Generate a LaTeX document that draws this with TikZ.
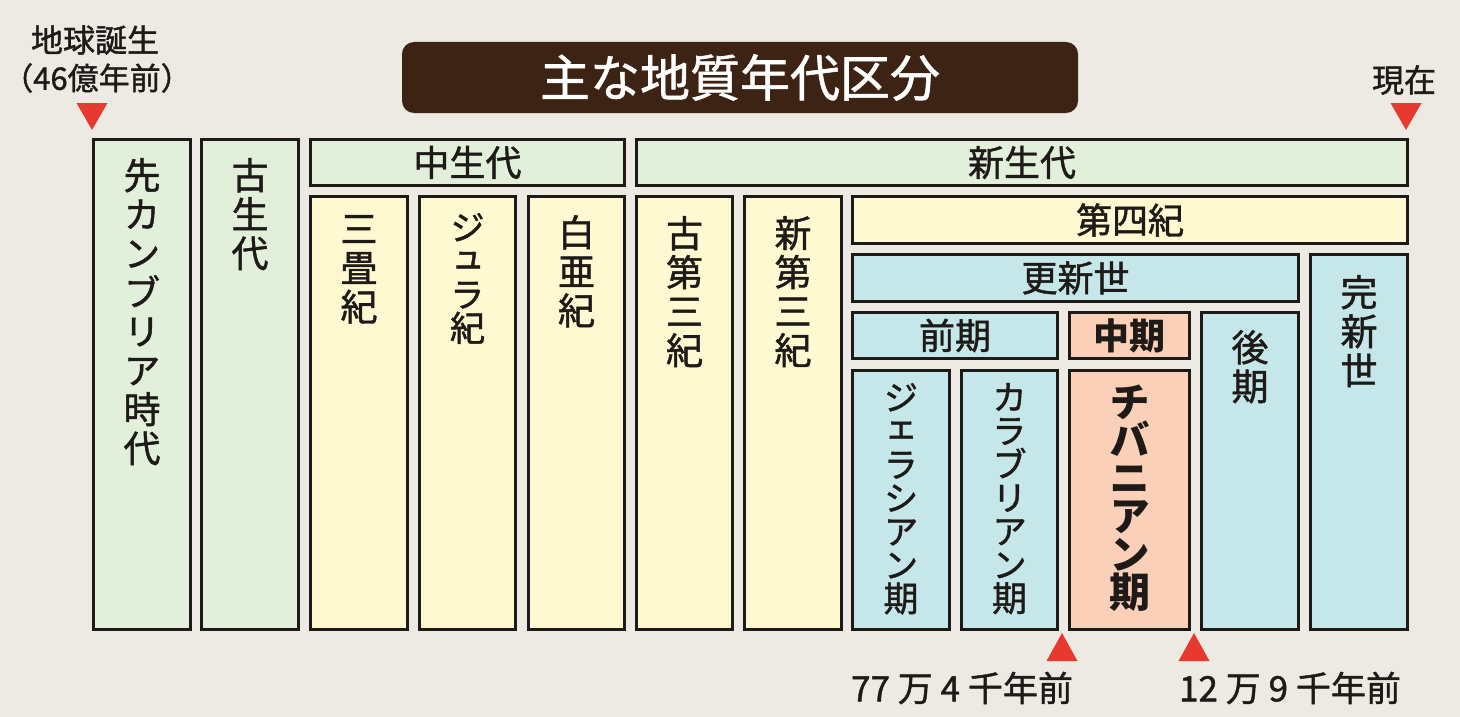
\documentclass[tikz,border=0pt]{standalone}
\usepackage{fontspec}
\setmainfont{Noto Sans CJK JP}[UprightFeatures={FakeBold=1.2}]
\newfontfamily\tatefont{Noto Sans CJK JP}[RawFeature=+vert,UprightFeatures={FakeBold=1.2}]
\usepackage{xcolor}
\usetikzlibrary{positioning}
\definecolor{ink}{HTML}{1E1A18}
\definecolor{paper}{HTML}{EDE9E3}
\definecolor{boxgreen}{HTML}{E2EFDA}
\definecolor{boxyellow}{HTML}{FFF9D2}
\definecolor{boxcyan}{HTML}{C5E7E9}
\definecolor{boxsalmon}{HTML}{FBD0B8}
\definecolor{titlebrown}{HTML}{3D2314}
\definecolor{markred}{HTML}{E8392E}
\newcommand\tatespacing{\lineskiplimit=-100pt\relax\lineskip=0pt\relax}
\newcommand\kogaki[1]{\makebox[1em][l]{\hspace*{-0.1em}#1}}

\begin{document}
\begin{tikzpicture}[x=1pt,y=-1pt]
\tikzstyle{era}=[rectangle,draw=ink,line width=3pt,anchor=north west,inner sep=0pt,text=ink,font=\fontsize{36}{40}\selectfont]
\tikzstyle{greenbox}=[era,fill=boxgreen]
\tikzstyle{yellowbox}=[era,fill=boxyellow]
\tikzstyle{cyanbox}=[era,fill=boxcyan]
\tikzstyle{salmonbox}=[era,fill=boxsalmon]
\tikzstyle{tate}=[align=center,inner sep=0pt,text=ink,font=\tatefont\fontsize{37}{39}\selectfont\tatespacing]
\tikzstyle{tatekana}=[tate,font=\tatefont\fontsize{35}{33.5}\selectfont\tatespacing]
\tikzstyle{note}=[inner sep=0pt,text=ink,font=\fontsize{32}{36}\selectfont]
\tikzstyle{marker}=[fill=markred]

% background
\useasboundingbox (0,0) rectangle (1460,717);
\fill[paper] (0,0) rectangle (1460,717);

% title
\node[rectangle,rounded corners=12pt,fill=titlebrown,minimum width=676pt,minimum height=71pt,text=white,font=\fontsize{50}{54}\selectfont] (title) at (740,77.5) {主な地質年代区分};

% eons and eras
\node[greenbox,minimum width=97pt,minimum height=490pt] (pc) at (92,138) {};
\node[tate,below=20pt of pc.north] (pc-t) {先\\カ\\ン\\ブ\\リ\\ア\\時\\代};
\node[greenbox,minimum width=97pt,minimum height=490pt] (pz) at (200,138) {};
\node[tate,below=20pt of pz.north] (pz-t) {古\\生\\代};
\node[greenbox,minimum width=314pt,minimum height=46pt] (mz) at (309,138) {中生代};
\node[greenbox,minimum width=771pt,minimum height=46pt] (cz) at (635,138) {新生代};

% periods
\node[yellowbox,minimum width=97pt,minimum height=433pt] (tr) at (309,195) {};
\node[tate,below=20pt of tr.north] (tr-t) {三\\畳\\紀};
\node[yellowbox,minimum width=96pt,minimum height=433pt] (ju) at (418,195) {};
\node[tatekana,below=18pt of ju.north] (ju-t) {ジ\\\kogaki{ュ}\\ラ\\紀};
\node[yellowbox,minimum width=96pt,minimum height=433pt] (cr) at (527,195) {};
\node[tate,below=20pt of cr.north] (cr-t) {白\\亜\\紀};
\node[yellowbox,minimum width=96pt,minimum height=433pt] (pg) at (635,195) {};
\node[tate,below=21pt of pg.north] (pg-t) {古\\第\\三\\紀};
\node[yellowbox,minimum width=97pt,minimum height=433pt] (ng) at (743,195) {};
\node[tate,below=21pt of ng.north] (ng-t) {新\\第\\三\\紀};
\node[yellowbox,minimum width=555pt,minimum height=47pt] (qt) at (851,195) {第四紀};

% epochs
\node[cyanbox,minimum width=446pt,minimum height=47pt] (pl) at (851,253) {更新世};
\node[cyanbox,minimum width=97pt,minimum height=375pt] (ho) at (1309,253) {};
\node[tate,below=22pt of ho.north] (ho-t) {完\\新\\世};

% ages
\node[cyanbox,minimum width=205pt,minimum height=46pt] (ea) at (851,311) {前期};
\node[salmonbox,minimum width=120pt,minimum height=46pt,font=\bfseries\fontsize{36}{40}\selectfont] (mi) at (1068,311) {中期};
\node[cyanbox,minimum width=97pt,minimum height=317pt] (la) at (1200,311) {};
\node[tate,below=19pt of la.north] (la-t) {後\\期};
\node[cyanbox,minimum width=97pt,minimum height=259pt] (ge) at (851,369) {};
\node[tatekana,below=14pt of ge.north] (ge-t) {ジ\\\kogaki{ェ}\\ラ\\シ\\ア\\ン\\期};
\node[cyanbox,minimum width=96pt,minimum height=259pt] (ca) at (960,369) {};
\node[tatekana,below=14pt of ca.north] (ca-t) {カ\\ラ\\ブ\\リ\\ア\\ン\\期};
\node[salmonbox,minimum width=120pt,minimum height=259pt] (ch) at (1068,369) {};
\node[tate,below=16pt of ch.north,font=\tatefont\bfseries\fontsize{41}{38}\selectfont\tatespacing] (ch-t) {チ\\バ\\ニ\\ア\\ン\\期};

% time markers
\node[note] (birth) at (95,40) {地球誕生};
\node[note,font=\fontsize{31}{35}\selectfont] (birth2) at (97,78) {（46億年前）};
\fill[marker] (76.5,103) -- (107.5,103) -- (92,130) -- cycle;
\node[note] (now) at (1404,80) {現在};
\fill[marker] (1390.5,103) -- (1421.5,103) -- (1406,130) -- cycle;
\fill[marker] (1062,633) -- (1077.5,661) -- (1046.5,661) -- cycle;
\node[note,font=\fontsize{35}{38}\selectfont] (age1) at (962,688) {77 万 4 千年前};
\fill[marker] (1194,633) -- (1209.5,661) -- (1178.5,661) -- cycle;
\node[note,font=\fontsize{35}{38}\selectfont] (age2) at (1290,688) {12 万 9 千年前};
\end{tikzpicture}
\end{document}
